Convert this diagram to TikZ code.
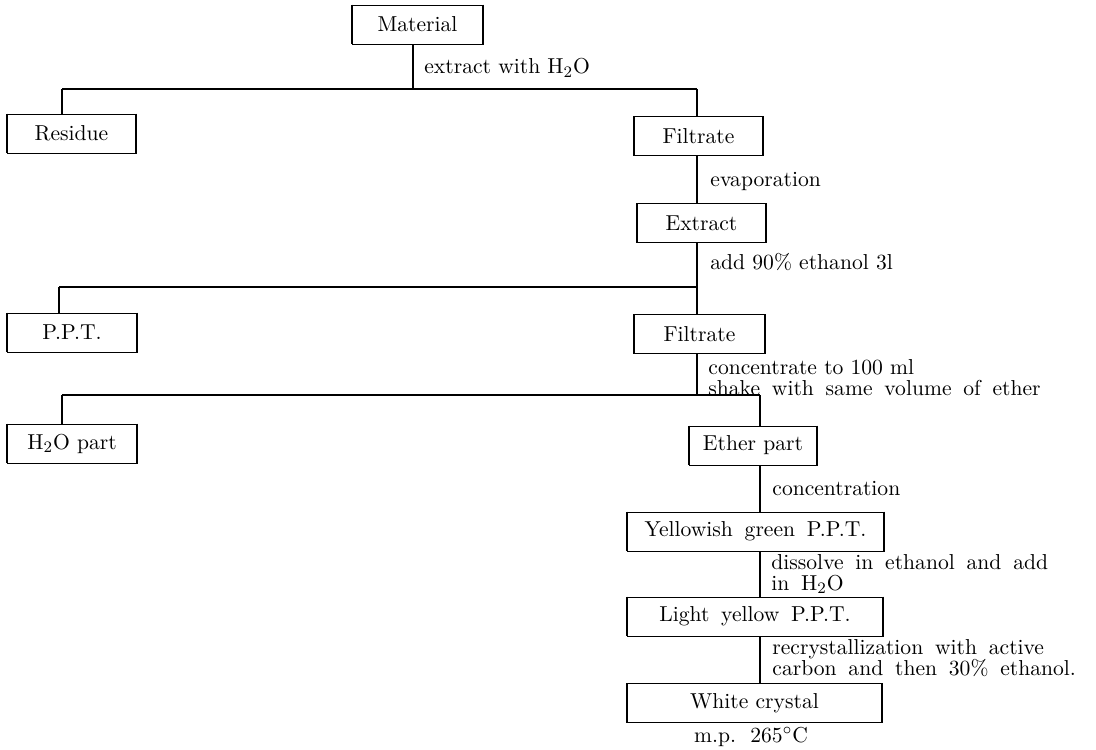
\documentclass[tikz,border=0pt]{standalone}
\newcommand\widesp{\spaceskip 5.9pt plus 1pt minus 1pt\relax}
\begin{document}
\begin{tikzpicture}[x=0.5pt,y=-0.5pt,
  every node/.style={font=\fontsize{10.8}{10.5}\selectfont},
  wide/.style={font={\fontsize{10.8}{10.5}\selectfont\widesp}},
  box/.style={draw, line width=0.35pt, inner sep=0pt, minimum height=19.5pt,
    append after command={
      (\tikzlastnode.north west) edge[line width=0.9pt] (\tikzlastnode.south west)
      (\tikzlastnode.north east) edge[line width=0.9pt] (\tikzlastnode.south east)}},
  lbl/.style={anchor=west, inner sep=0pt, align=left},
  conn/.style={line width=0.9pt},
  hline/.style={line width=0.6pt}]
\useasboundingbox (0,0) rectangle (1096,749);
% boxes
\node[box, minimum width=65.5pt] (mat) at (417.5,24.5) {Material};
\node[box, minimum width=64.5pt] (res) at (71.5,133.5) {Residue};
\node[box, minimum width=64.5pt] (fil1) at (698.5,136) {Filtrate};
\node[box, minimum width=64.5pt] (ext) at (701.5,223) {Extract};
\node[box, minimum width=65pt] (ppt) at (72,332.5) {P.P.T.};
\node[box, minimum width=65.5pt] (fil2) at (699.5,334) {Filtrate};
\node[box, minimum width=65pt] (h2o) at (72,443.5) {H$_2$O part};
\node[box, minimum width=64pt] (eth) at (753,445.5) {Ether part};
\node[box, wide, minimum width=128.5pt] (ygp) at (755.5,531.5) {Yellowish green P.P.T.};
\node[box, wide, minimum width=128pt] (lyp) at (755,616.5) {Light yellow P.P.T.};
\node[box, minimum width=127.5pt] (wc) at (754.5,703) {White crystal};
\node[wide, inner sep=0pt] (mp) at (751,737) {m.p. 265$^\circ$C};
% junction coordinates
\coordinate (j1) at (413,89);
\coordinate (j1l) at (62,89);
\coordinate (j1r) at (697,89);
\coordinate (c2) at (697,0);
\coordinate (j3) at (697,287);
\coordinate (j3l) at (59,287);
\coordinate (j4) at (697,395);
\coordinate (j4l) at (62,395);
\coordinate (j4r) at (760,395);
\coordinate (c5) at (760,0);
% connectors
\draw[conn] (mat.south -| j1) -- (j1);
\draw[hline] (j1l) -- (j1r);
\draw[conn] (j1l) -- (j1l |- res.north);
\draw[conn] (j1r) -- (j1r |- fil1.north);
\draw[conn] (fil1.south -| c2) -- (ext.north -| c2);
\draw[conn] (ext.south -| j3) -- (j3);
\draw[hline] (j3l) -- (j3);
\draw[conn] (j3l) -- (j3l |- ppt.north);
\draw[conn] (j3) -- (j3 |- fil2.north);
\draw[conn] (fil2.south -| j4) -- (j4);
\draw[hline] (j4l) -- (j4r);
\draw[conn] (j4l) -- (j4l |- h2o.north);
\draw[conn] (j4r) -- (j4r |- eth.north);
\draw[conn] (eth.south -| c5) -- (ygp.north -| c5);
\draw[conn] (ygp.south -| c5) -- (lyp.north -| c5);
\draw[conn] (lyp.south -| c5) -- (wc.north -| c5);
% labels
\node[lbl] (l1) at (424,68) {extract with H$_2$O};
\node[lbl] (l2) at (710,181) {evaporation};
\node[lbl] (l3) at (710,262) {add 90\% ethanol 3l};
\node[lbl] (l4) at (708,378) {concentrate to 100 ml\\\widesp shake with same volume of ether};
\node[lbl] (l5) at (772,489) {concentration};
\node[lbl, wide] (l6) at (771,574) {dissolve in ethanol and add\\in H$_2$O};
\node[lbl, wide] (l7) at (772,658) {recrystallization with active\\carbon and then 30\% ethanol.};
\end{tikzpicture}
\end{document}
